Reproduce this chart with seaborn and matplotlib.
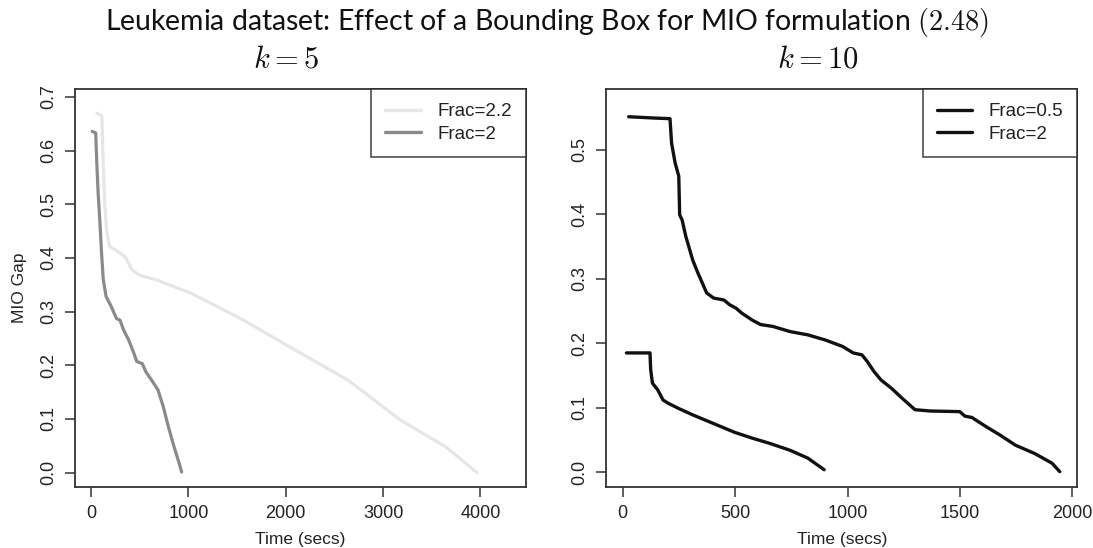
import numpy as np
import pandas as pd
import matplotlib
matplotlib.use("Agg")
import matplotlib.pyplot as plt
import seaborn as sns
from matplotlib.lines import Line2D

# ---- k = 5 : MIO gap over time for two bounding-box fractions ----
k5_frac22_time = [60, 110, 120, 140, 160, 190, 250, 350, 420, 494, 673, 1030,
                  1567, 2032, 2641, 3177, 3642, 3964]
k5_frac22_gap = [0.670, 0.665, 0.600, 0.500, 0.450, 0.421, 0.415, 0.402, 0.378,
                 0.368, 0.359, 0.334, 0.284, 0.235, 0.172, 0.098, 0.048, 0.0]

k5_frac2_time = [11, 47, 57, 72, 93, 107, 125, 154, 208, 261, 297, 333, 386,
                 440, 469, 526, 562, 633, 687, 741, 794, 852, 905, 930]
k5_frac2_gap = [0.636, 0.633, 0.583, 0.521, 0.458, 0.409, 0.359, 0.328, 0.309,
                0.287, 0.284, 0.266, 0.247, 0.222, 0.207, 0.203, 0.188, 0.169,
                0.154, 0.123, 0.085, 0.048, 0.017, 0.001]

# ---- k = 10 ----
k10_frac05_time = [16, 121, 124, 132, 155, 179, 202, 248, 311, 373, 435, 497,
                   575, 652, 745, 823, 896]
k10_frac05_gap = [0.185, 0.185, 0.159, 0.138, 0.128, 0.112, 0.107, 0.099, 0.089,
                  0.080, 0.071, 0.062, 0.053, 0.045, 0.034, 0.022, 0.004]

k10_frac2_time = [26, 140, 210, 217, 233, 249, 253, 264, 280, 311, 334, 373,
                  404, 450, 474, 505, 528, 575, 613, 668, 745, 823, 901, 978,
                  1025, 1064, 1087, 1118, 1149, 1196, 1242, 1300, 1367, 1499,
                  1522, 1553, 1615, 1677, 1747, 1833, 1910, 1944]
k10_frac2_gap = [0.551, 0.549, 0.548, 0.510, 0.479, 0.459, 0.399, 0.391, 0.366,
                 0.329, 0.309, 0.278, 0.270, 0.267, 0.260, 0.254, 0.247, 0.236,
                 0.229, 0.226, 0.218, 0.213, 0.205, 0.195, 0.185, 0.182, 0.172,
                 0.156, 0.143, 0.130, 0.115, 0.097, 0.095, 0.094, 0.087, 0.085,
                 0.071, 0.058, 0.042, 0.029, 0.014, 0.001]

k5_labels = ["Frac=2.2", "Frac=2"]
k10_labels = ["Frac=0.5", "Frac=2"]
k5_colors = ["#e6e6e6", "#8a8a8a"]
k10_colors = ["#111111", "#111111"]

sns.set_theme(style="ticks")
plt.rcParams["font.family"] = ["Liberation Sans", "DejaVu Sans"]
plt.rcParams["mathtext.fontset"] = "cm"

fig = plt.figure(figsize=(10.93, 5.48), dpi=100)
ax1 = fig.add_axes([0.0685, 0.1113, 0.4125, 0.7263])
ax2 = fig.add_axes([0.5548, 0.1113, 0.4306, 0.7263])


def series_frame(times, gaps, name):
    return pd.DataFrame({"time": times, "gap": gaps, "series": name})


df5 = pd.concat([series_frame(k5_frac22_time, k5_frac22_gap, k5_labels[0]),
                 series_frame(k5_frac2_time, k5_frac2_gap, k5_labels[1])])
df10 = pd.concat([series_frame(k10_frac05_time, k10_frac05_gap, k10_labels[0]),
                  series_frame(k10_frac2_time, k10_frac2_gap, k10_labels[1])])

sns.lineplot(data=df5, x="time", y="gap", hue="series", hue_order=k5_labels,
             palette=k5_colors, linewidth=2.3, ax=ax1, legend=False,
             estimator=None, sort=False)
sns.lineplot(data=df10, x="time", y="gap", hue="series", hue_order=k10_labels,
             palette=k10_colors, linewidth=2.4, ax=ax2, legend=False,
             estimator=None, sort=False)

ax1.set_xlim(-167, 4465)
ax1.set_ylim(-0.027, 0.715)
ax1.set_xticks([0, 1000, 2000, 3000, 4000])
ax1.set_yticks(np.arange(0, 0.71, 0.1))
ax1.set_yticklabels([f"{v:.1f}" for v in np.arange(0, 0.71, 0.1)])

ax2.set_xlim(-73, 2021)
ax2.set_ylim(-0.0228, 0.594)
ax2.set_xticks([0, 500, 1000, 1500, 2000])
ax2.set_yticks(np.arange(0, 0.51, 0.1))
ax2.set_yticklabels([f"{v:.1f}" for v in np.arange(0, 0.51, 0.1)])

for ax, labels, colors in ((ax1, k5_labels, k5_colors), (ax2, k10_labels, k10_colors)):
    for sp in ax.spines.values():
        sp.set_visible(True)
        sp.set_color("#333333")
        sp.set_linewidth(1.3)
    ax.tick_params(axis="both", direction="out", length=7, width=1.1,
                   color="#333333", labelsize=13, labelcolor="#222222", pad=6)
    for t in ax.get_yticklabels():
        t.set_rotation(90)
        t.set_va("center")
    ax.set_xlabel("Time (secs)", fontsize=12.5, color="#222222", labelpad=7)
    ax.set_ylabel("")
    handles = [Line2D([0], [0], color=c, lw=2.4) for c in colors]
    leg = ax.legend(handles, labels, loc="upper right", fontsize=13.5,
                    frameon=True, fancybox=False, borderaxespad=0,
                    handlelength=1.9, handletextpad=0.85, borderpad=0.75,
                    labelspacing=0.28)
    leg.get_frame().set_edgecolor("#222222")
    leg.get_frame().set_linewidth(1.2)
    for t in leg.get_texts():
        t.set_color("#222222")

ax1.set_ylabel("MIO Gap", fontsize=12.5, color="#222222", labelpad=9)

fig.text(0.5, 0.945,
         r"Leukemia dataset: Effect of a Bounding Box for MIO formulation $(2.48)$",
         ha="center", va="baseline", fontsize=20.4, family=["Lato", "DejaVu Sans"],
         color="#111111")
fig.text(0.2617, 0.876, r"$k=5$", ha="center", va="baseline", fontsize=22,
         color="#111111")
fig.text(0.748, 0.876, r"$k=10$", ha="center", va="baseline", fontsize=22,
         color="#111111")

fig.savefig("out.png", dpi=100, facecolor="white")
